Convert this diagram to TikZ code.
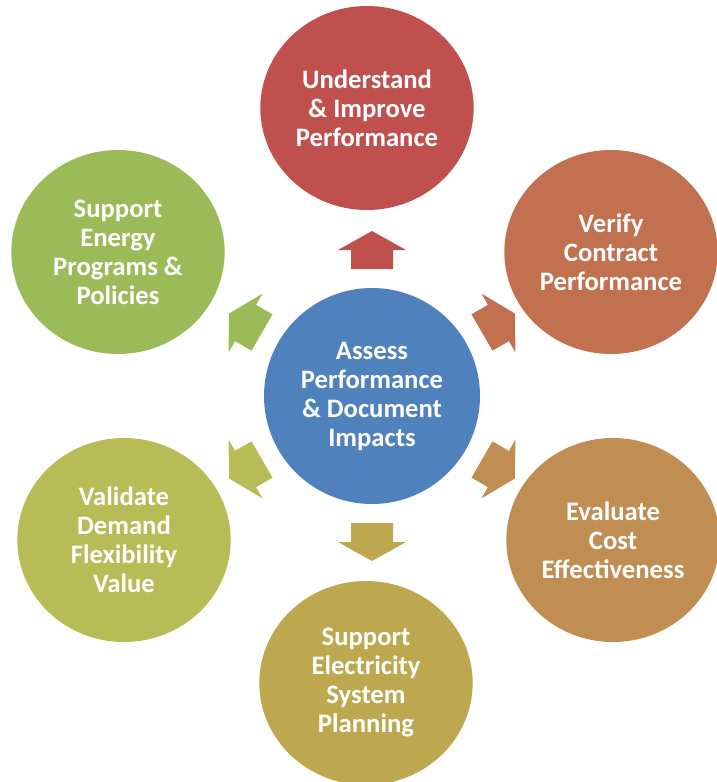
\documentclass[tikz,border=0pt]{standalone}
\usepackage{fontspec}
\setmainfont{Carlito}
\usetikzlibrary{shapes.geometric}
\definecolor{cBlue}{HTML}{4F81BD}
\definecolor{cRed}{HTML}{C0504D}
\definecolor{cRust}{HTML}{C17150}
\definecolor{cTan}{HTML}{C08E52}
\definecolor{cOlive}{HTML}{BDA850}
\definecolor{cLime}{HTML}{B8BC57}
\definecolor{cGreen}{HTML}{9BBB59}

\begin{document}
\begin{tikzpicture}[x=0.75pt,y=-0.75pt,
  topic/.style={ellipse, fill=#1, minimum width=160pt, minimum height=153pt,
    inner sep=0pt, text=white, align=center,
    font=\bfseries\fontsize{20}{21.75}\selectfont}]
\useasboundingbox (0,0) rectangle (717,782);
% hub
\node [topic=cBlue, minimum width=162pt, minimum height=162pt] (hub) at (372,396) {Assess\\Performance\\\& Document\\Impacts};
% outer topics
\node [topic=cRed] (improve) at (367,108) {Understand\\\& Improve\\Performance};
\node [topic=cRust] (contract) at (611,252) {Verify\\Contract\\Performance};
\node [topic=cTan] (cost) at (613,540) {Evaluate\\Cost\\Effectiveness};
\node [topic=cOlive] (planning) at (366,683) {Support\\Electricity\\System\\Planning};
\node [topic=cLime] (demand) at (124,540) {Validate\\Demand\\Flexibility\\Value};
\node [topic=cGreen] (policy) at (118,252) {Support\\Energy\\Programs \&\\Policies};
% block arrows
\foreach \ang/\col in {90/cRed,30/cRust,-30/cTan,-90/cOlive,-150/cLime,150/cGreen}
  \fill [\col, shift={(hub.center)}, rotate=\ang] (127,-21) -- ++(19,0) -- ++(0,-13) -- ++(19,34) -- ++(-19,34) -- ++(0,-13) -- ++(-19,0) -- cycle;
\end{tikzpicture}
\end{document}
